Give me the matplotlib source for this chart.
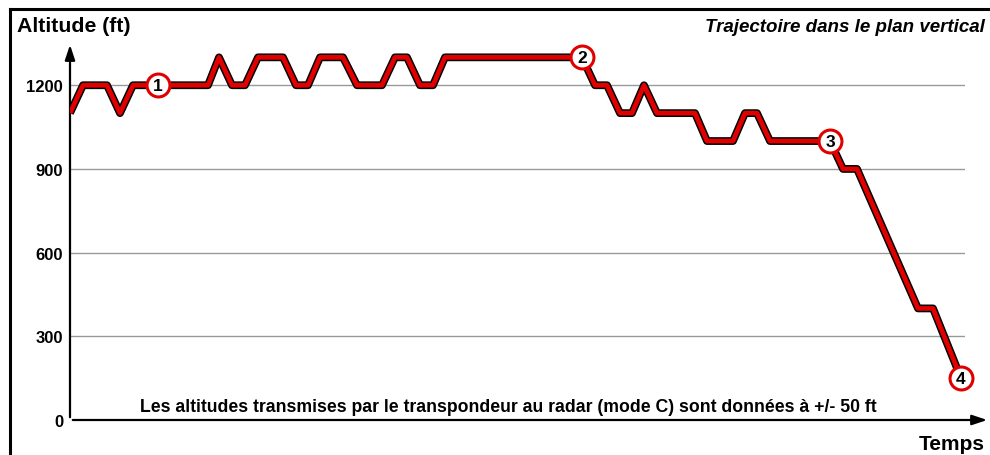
import matplotlib
matplotlib.use("Agg")
import matplotlib.pyplot as plt
import matplotlib.patheffects as pe
from matplotlib.lines import Line2D

plt.rcParams['font.family'] = ['Liberation Sans', 'DejaVu Sans']

# trajectory (time in arbitrary units, altitude in ft)
temps = [0, 13, 37, 50, 63, 138, 149, 162, 175, 188, 213, 226, 238, 250, 273,
         287, 312, 325, 337, 350, 363, 375, 512, 525, 537, 550, 562, 574, 587,
         625, 637, 663, 675, 687, 700, 760, 773, 787, 848, 863, 891]
altitude = [1100, 1200, 1200, 1100, 1200, 1200, 1300, 1200, 1200, 1300, 1300,
            1200, 1200, 1300, 1300, 1200, 1200, 1300, 1300, 1200, 1200, 1300,
            1300, 1200, 1200, 1100, 1100, 1200, 1100, 1100, 1000, 1000, 1100,
            1100, 1000, 1000, 900, 900, 400, 400, 150]

# numbered points
point_t = [88, 512, 760, 891]
point_alt = [1200, 1300, 1000, 150]
point_labels = ["1", "2", "3", "4"]

yticks = [0, 300, 600, 900, 1200]

W, H = 990, 456
fig = plt.figure(figsize=(W / 100, H / 100), dpi=100)

# axes placed in pixels: origin at (70, 421), top at y=43, right at x=965
ax = fig.add_axes([70 / W, 35 / H, 895 / W, (421 - 43) / H])
ax.set_xlim(0, 895)
ax.set_ylim(0, 1355)

for s in ax.spines.values():
    s.set_visible(False)
ax.set_xticks([])
ax.set_yticks(yticks)
ax.set_yticklabels([str(v) for v in yticks], fontweight='bold', fontsize=12)
ax.tick_params(axis='y', length=0, pad=5)
for v in yticks[1:]:
    ax.axhline(v, color='#999999', lw=1, zorder=1)

# axis arrows
arrow = dict(arrowstyle='-|>,head_length=0.9,head_width=0.3', color='black', lw=1.6)
ax.annotate('', xy=(0, 1.0), xytext=(0, 0), xycoords='axes fraction',
            arrowprops=arrow, annotation_clip=False)
ax.annotate('', xy=((990 - 70) / 895, 0), xytext=(0, 0), xycoords='axes fraction',
            arrowprops=arrow, annotation_clip=False)

ax.plot(temps, altitude, color='#e00000', lw=3.4, zorder=3,
        solid_joinstyle='round', solid_capstyle='butt',
        path_effects=[pe.Stroke(linewidth=5.6, foreground='black'), pe.Normal()])

ax.plot(point_t, point_alt, 'o', ms=16.5, mfc='white', mec='#e00000', mew=2.2,
        zorder=4, clip_on=False)
for t, a, lab in zip(point_t, point_alt, point_labels):
    ax.text(t, a, lab, ha='center', va='center', fontsize=12.5,
            fontweight='bold', zorder=5)

# texts
fig.text(17 / W, 1 - 27 / H, "Altitude (ft)", fontsize=15.3, fontweight='bold',
         ha='left', va='center')
fig.text(985 / W, 1 - 27 / H, "Trajectoire dans le plan vertical", fontsize=13.5,
         fontweight='bold', fontstyle='italic', ha='right', va='center')
fig.text(508 / W, 1 - 407 / H,
         "Les altitudes transmises par le transpondeur au radar (mode C) sont données à +/- 50 ft",
         fontsize=12.7, fontweight='bold', ha='center', va='center')
fig.text(985 / W, 1 - 445 / H, "Temps", fontsize=15, fontweight='bold',
         ha='right', va='center')

# frame (top and left only visible)
fig.add_artist(Line2D([10 / W, 1], [1 - 10 / H, 1 - 10 / H], color='black', lw=2.2))
fig.add_artist(Line2D([10 / W, 10 / W], [0, 1 - 10 / H], color='black', lw=2.2))

fig.savefig("out.png", dpi=100)
